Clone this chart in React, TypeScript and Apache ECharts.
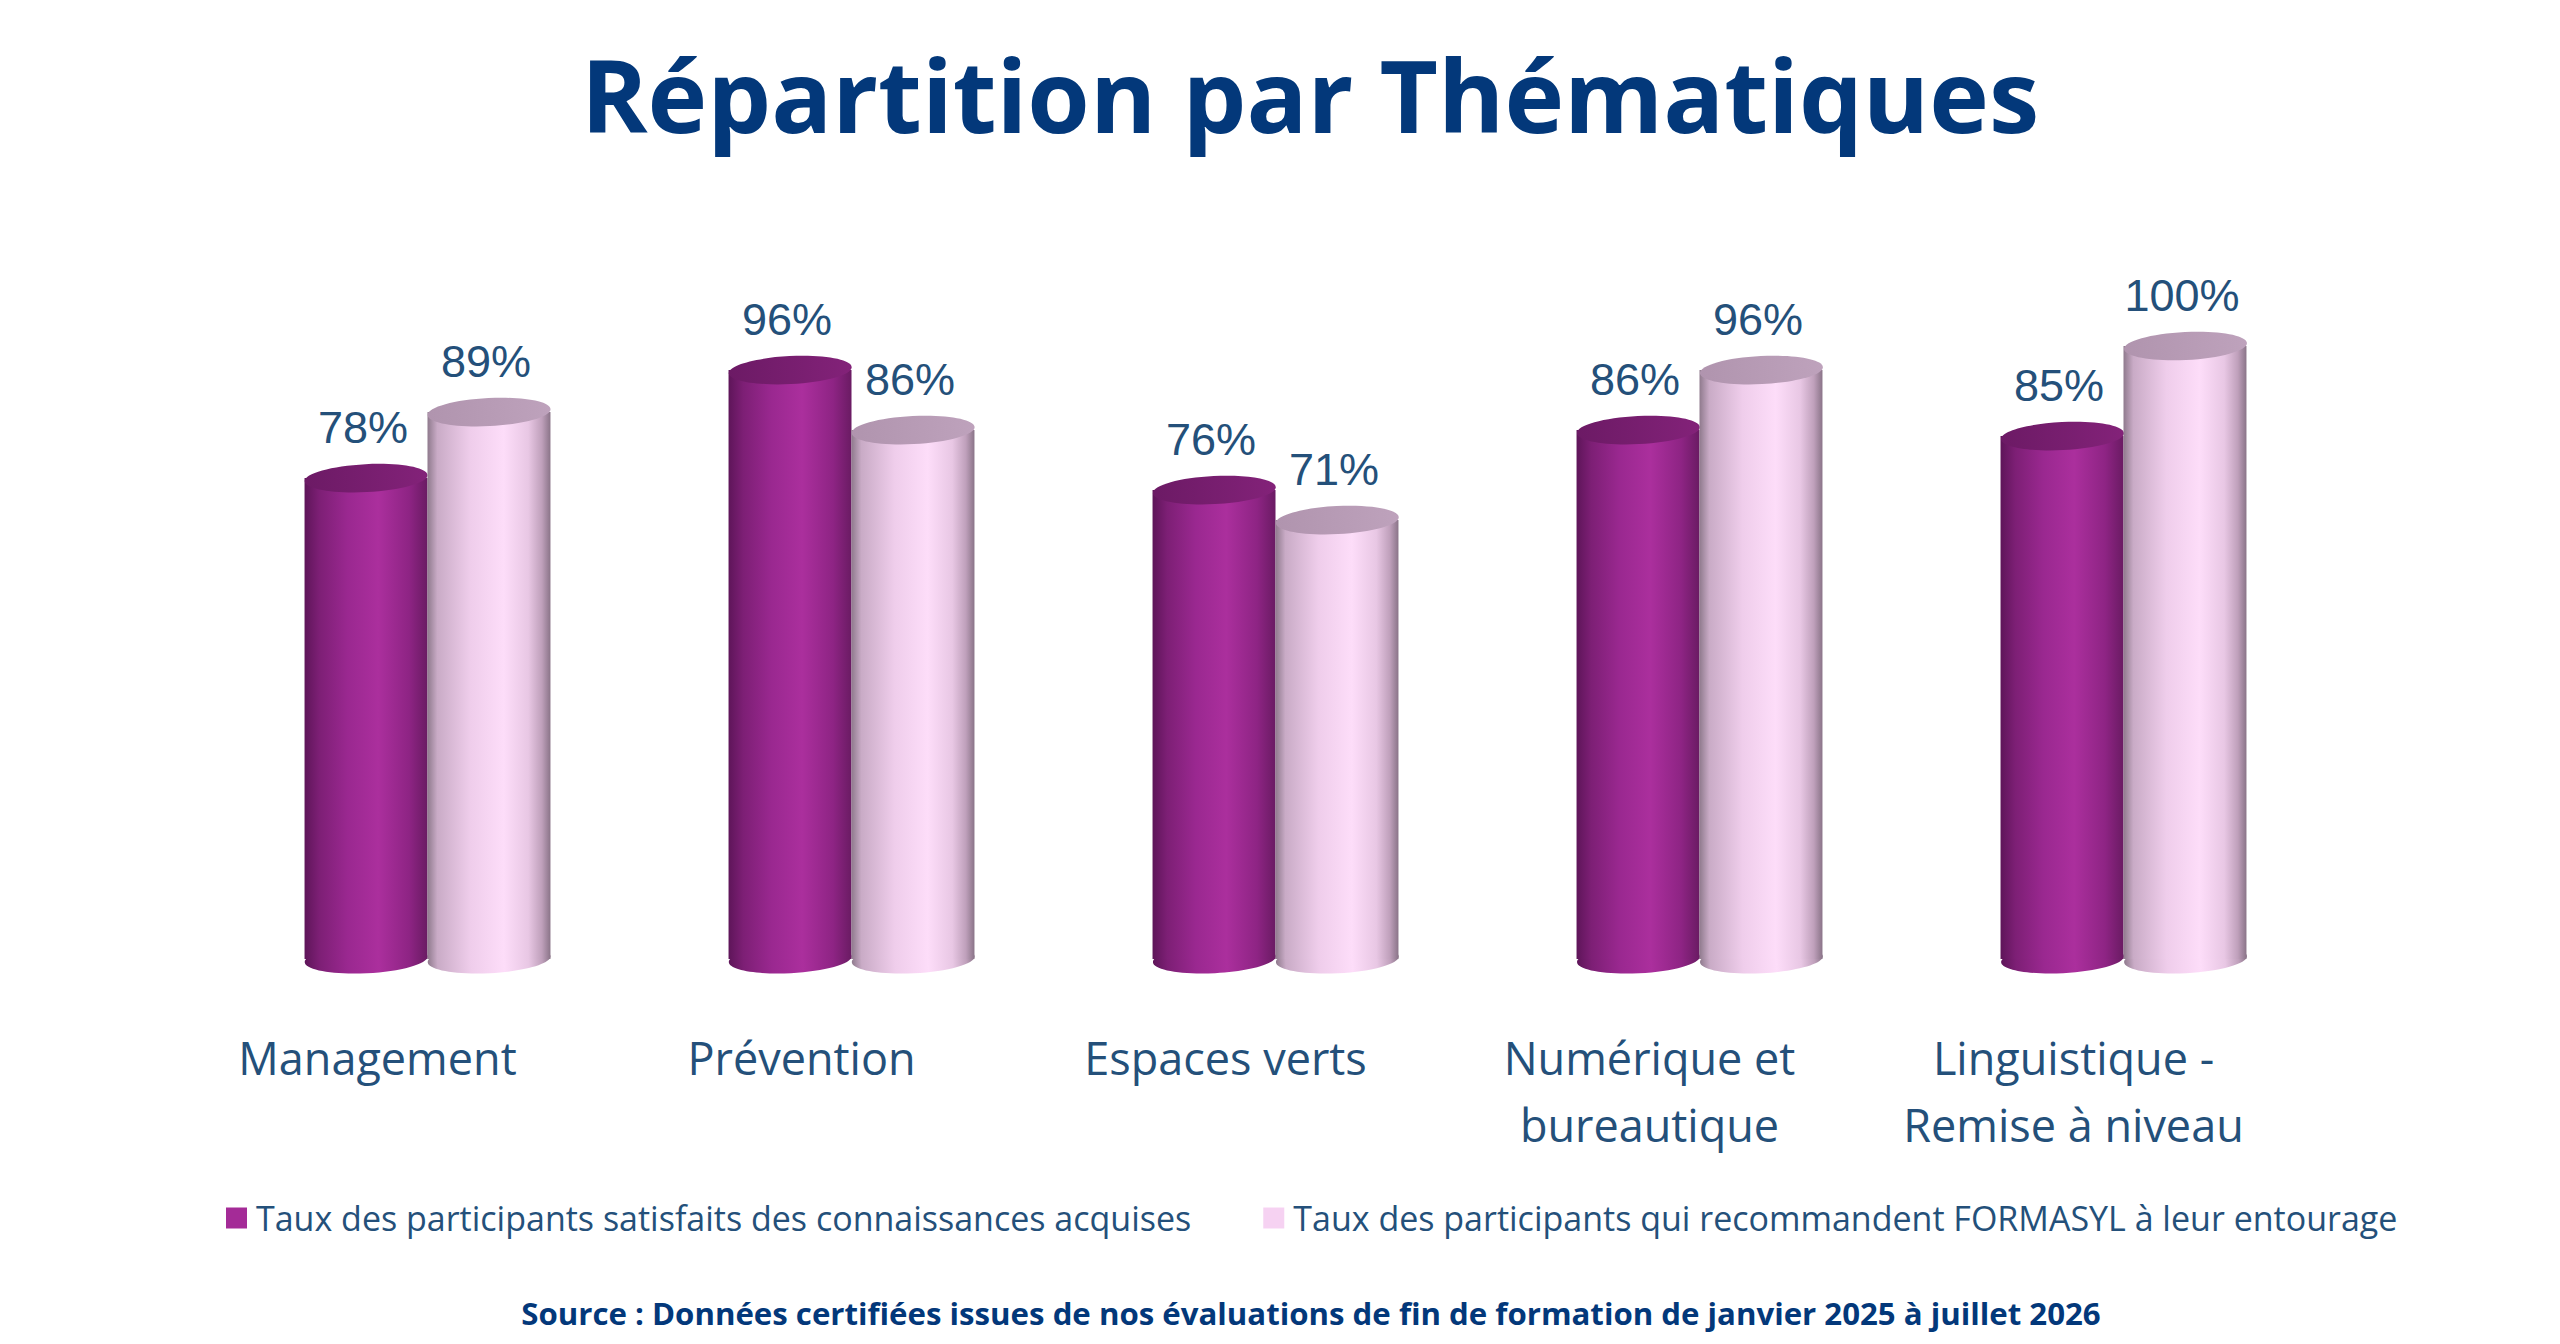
import React, { useEffect, useRef } from "react";
import * as echarts from "echarts";

const categories = [
  "Management",
  "Prévention",
  "Espaces verts",
  "Numérique et\nbureautique",
  "Linguistique -\nRemise à niveau",
];
const seriesNames = [
  "Taux des participants satisfaits des connaissances acquises",
  "Taux des participants qui recommandent FORMASYL à leur entourage",
];
const satisfaits = [78, 96, 76, 86, 85];
const recommandent = [89, 86, 71, 96, 100];

const TITLE = "Répartition par Thématiques";
const SOURCE =
  "Source : Données certifiées issues de nos évaluations de fin de formation de janvier 2025 à juillet 2026";

const purpleBody = [
  { offset: 0, color: "#5E1559" },
  { offset: 0.12, color: "#7D1F75" },
  { offset: 0.35, color: "#9A2890" },
  { offset: 0.6, color: "#AB2F9D" },
  { offset: 0.85, color: "#8E2484" },
  { offset: 1, color: "#6A1B63" },
];
const purpleTop = [
  { offset: 0, color: "#6C1A65" },
  { offset: 1, color: "#832279" },
];
const pinkBody = [
  { offset: 0, color: "#8F7A8D" },
  { offset: 0.08, color: "#C9ABC6" },
  { offset: 0.35, color: "#EFCDEB" },
  { offset: 0.62, color: "#FDDDF9" },
  { offset: 0.82, color: "#E8C7E4" },
  { offset: 0.93, color: "#BFA0BB" },
  { offset: 1, color: "#8A7488" },
];
const pinkTop = [
  { offset: 0, color: "#B094AE" },
  { offset: 1, color: "#BEA2BC" },
];

const LABEL_COLOR = "#24507A";
const DARK_BLUE = "#03387A";

function makeRender(side: number, body: any[], top: any[]) {
  return (params: any, api: any) => {
    const idx = api.value(0);
    const v = api.value(1);
    const [cx, yTop] = api.coord([idx, v]);
    const [, y0] = api.coord([idx, 0]);
    const band = api.size([1, 0])[0];
    const w = band * 0.29;
    const x = side === 0 ? cx - w : cx;
    const mid = x + w / 2;
    const rx = w / 2;
    const ry = 14;
    const yBase = y0 + 13;
    const rot = 0.05;
    const bodyFill = new echarts.graphic.LinearGradient(0, 0, 1, 0, body);
    const topFill = new echarts.graphic.LinearGradient(0, 0, 1, 0, top);
    return {
      type: "group",
      children: [
        {
          type: "ellipse",
          shape: { cx: mid, cy: yBase, rx, ry },
          rotation: rot,
          originX: mid,
          originY: yBase,
          style: { fill: bodyFill },
        },
        {
          type: "rect",
          shape: { x, y: yTop, width: w, height: yBase - yTop },
          style: { fill: bodyFill },
        },
        {
          type: "ellipse",
          shape: { cx: mid, cy: yTop, rx, ry },
          rotation: rot,
          originX: mid,
          originY: yTop,
          style: { fill: topFill },
        },
        {
          type: "text",
          x: mid - 3,
          y: yTop - 51,
          style: {
            text: v + "%",
            fill: LABEL_COLOR,
            font: '45px "Liberation Sans", Arial, sans-serif',
            align: "center",
            verticalAlign: "middle",
          },
        },
      ],
    };
  };
}

export default function App() {
  const ref = useRef<HTMLDivElement>(null);
  useEffect(() => {
    document.body.style.margin = "0";
    if (!ref.current) return;
    const chart = echarts.init(ref.current, undefined, { renderer: "svg" });
    const option: any = {
      animation: false,
      backgroundColor: "#FFFFFF",
      graphic: [
        {
          type: "text",
          x: 1310,
          y: 94,
          style: {
            text: TITLE,
            fill: DARK_BLUE,
            font: 'bold 101px "Open Sans"',
            align: "center",
            verticalAlign: "middle",
          },
        },
        {
          type: "text",
          x: 1311,
          y: 1313,
          style: {
            text: SOURCE,
            fill: DARK_BLUE,
            font: 'bold 31.2px "Open Sans"',
            align: "center",
            verticalAlign: "middle",
          },
        },
      ],
      legend: {
        left: 221,
        top: 1196,
        itemWidth: 21,
        itemHeight: 21,
        itemGap: 72,
        icon: "rect",
        textStyle: {
          fontFamily: '"Open Sans"',
          fontSize: 34,
          color: LABEL_COLOR,
          padding: [0, 0, 0, 4],
        },
        data: [
          { name: seriesNames[0], icon: "rect", itemStyle: { color: "#A42B97" } },
          { name: seriesNames[1], icon: "rect", itemStyle: { color: "#F6D2F2" } },
        ],
      },
      grid: { left: 215.5, right: 224.5, top: 346, bottom: 398 },
      xAxis: {
        type: "category",
        data: categories,
        axisLine: { show: false },
        axisTick: { show: false },
        splitLine: { show: false },
        axisLabel: {
          interval: 0,
          margin: 78,
          fontFamily: '"Open Sans"',
          fontSize: 45,
          lineHeight: 67,
          color: LABEL_COLOR,
          padding: [0, 100, 0, 0],
        },
      },
      yAxis: { type: "value", min: 0, max: 100, show: false },
      series: [
        {
          type: "custom",
          name: seriesNames[0],
          itemStyle: { color: "#A42B97" },
          renderItem: makeRender(0, purpleBody, purpleTop),
          encode: { x: 0, y: 1 },
          data: satisfaits.map((v, i) => [i, v]),
        },
        {
          type: "custom",
          name: seriesNames[1],
          itemStyle: { color: "#F6D2F2" },
          renderItem: makeRender(1, pinkBody, pinkTop),
          encode: { x: 0, y: 1 },
          data: recommandent.map((v, i) => [i, v]),
        },
      ],
    };
    chart.setOption(option);
    return () => chart.dispose();
  }, []);
  return <div ref={ref} style={{ width: 2560, height: 1344 }} />;
}
